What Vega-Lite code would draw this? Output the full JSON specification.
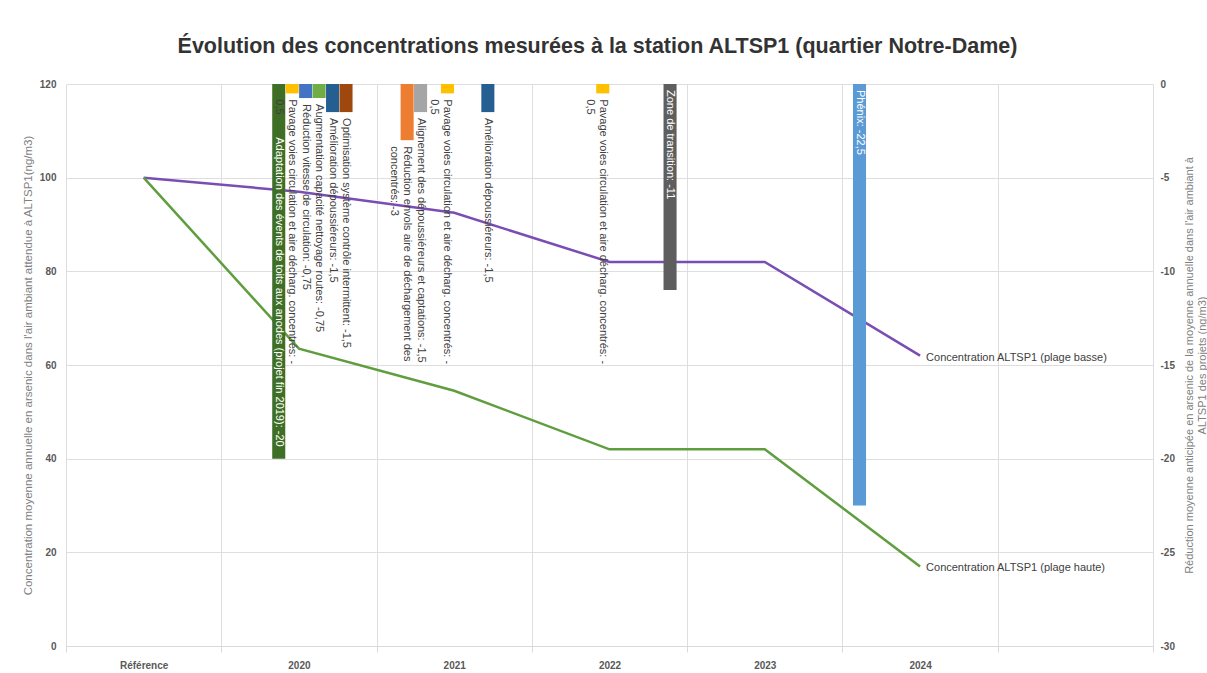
{
  "$schema": "https://vega.github.io/schema/vega-lite/v6.json",
  "width": 1087,
  "height": 562,
  "autosize": {"type": "none"},
  "padding": {"left": 66, "top": 84, "right": 54, "bottom": 27},
  "background": "white",
  "config": {"font": "Liberation Sans", "view": {"stroke": null}},
  "title": {
    "text": "Évolution des concentrations mesurées à la station ALTSP1 (quartier Notre-Dame)",
    "fontSize": 21.5, "fontWeight": "bold", "color": "#333333", "anchor": "middle", "offset": 22, "dx": -12
  },
  "datasets": {
    "lignes": [
      {"annee": "Référence", "serie": "Concentration ALTSP1 (plage basse)", "valeur": 100},
      {"annee": "2020", "serie": "Concentration ALTSP1 (plage basse)", "valeur": 97},
      {"annee": "2021", "serie": "Concentration ALTSP1 (plage basse)", "valeur": 92.5},
      {"annee": "2022", "serie": "Concentration ALTSP1 (plage basse)", "valeur": 82},
      {"annee": "2023", "serie": "Concentration ALTSP1 (plage basse)", "valeur": 82},
      {"annee": "2024", "serie": "Concentration ALTSP1 (plage basse)", "valeur": 62},
      {"annee": "Référence", "serie": "Concentration ALTSP1 (plage haute)", "valeur": 100},
      {"annee": "2020", "serie": "Concentration ALTSP1 (plage haute)", "valeur": 63.5},
      {"annee": "2021", "serie": "Concentration ALTSP1 (plage haute)", "valeur": 54.5},
      {"annee": "2022", "serie": "Concentration ALTSP1 (plage haute)", "valeur": 42},
      {"annee": "2023", "serie": "Concentration ALTSP1 (plage haute)", "valeur": 42},
      {"annee": "2024", "serie": "Concentration ALTSP1 (plage haute)", "valeur": 17}
    ],
    "projets": [
      {"annee": "2020", "projet": "Évents toits anodes", "reduction": -20, "label": "Adaptation des évents de toits aux anodes (projet fin 2019): -20"},
      {"annee": "2020", "projet": "Pavage", "reduction": -0.5, "label": "Pavage voies circulation et aire décharg. concentrés: -\n0,5"},
      {"annee": "2020", "projet": "Réduction vitesse", "reduction": -0.75, "label": "Réduction vitesse de circulation: -0,75"},
      {"annee": "2020", "projet": "Nettoyage routes", "reduction": -0.75, "label": "Augmentation capacité nettoyage routes: -0,75"},
      {"annee": "2020", "projet": "Dépoussiéreurs", "reduction": -1.5, "label": "Amélioration dépoussiéreurs: -1,5"},
      {"annee": "2020", "projet": "Contrôle intermittent", "reduction": -1.5, "label": "Optimisation système contrôle intermittent: -1,5"},
      {"annee": "2021", "projet": "Réduction envols", "reduction": -3, "label": "Réduction envols aire de déchargement des\nconcentrés: -3"},
      {"annee": "2021", "projet": "Alignement", "reduction": -1.5, "label": "Alignement des dépoussiéreurs et captations: -1,5"},
      {"annee": "2021", "projet": "Pavage", "reduction": -0.5, "label": "Pavage voies circulation et aire décharg. concentrés: -\n0,5"},
      {"annee": "2021", "projet": "Dépoussiéreurs", "reduction": -1.5, "label": "Amélioration dépoussiéreurs: -1,5"},
      {"annee": "2022", "projet": "Pavage", "reduction": -0.5, "label": "Pavage voies circulation et aire décharg. concentrés: -\n0,5"},
      {"annee": "2022", "projet": "Zone de transition", "reduction": -11, "label": "Zone de transition: -11"},
      {"annee": "2024", "projet": "Phénix", "reduction": -22.5, "label": "Phénix: -22,5"}
    ]
  },
  "layer": [
    {
      "data": {"name": "lignes"},
      "layer": [
        {
          "mark": {"type": "line", "strokeWidth": 2.5, "zindex": 1},
          "encoding": {
            "x": {
              "field": "annee", "type": "nominal", "sort": null,
              "scale": {"type": "band", "domain": ["Référence", "2020", "2021", "2022", "2023", "2024", "2025"], "paddingInner": 0, "paddingOuter": 0},
              "axis": {
                "title": null, "labelAngle": 0, "labelExpr": "datum.value == '2025' ? '' : datum.value",
                "tickBand": "extent", "grid": true, "gridColor": "#dedede", "ticks": true, "tickSize": 6, "tickColor": "#d9d9d9",
                "domain": true, "domainColor": "#d9d9d9", "labelFontWeight": "bold", "labelFontSize": 10, "labelColor": "#595959", "labelPadding": 8
              }
            },
            "y": {
              "field": "valeur", "type": "quantitative",
              "scale": {"domain": [0, 120], "nice": false},
              "axis": {
                "orient": "left", "title": "Concentration moyenne annuelle en arsenic dans l'air ambiant attendue à ALTSP1(ng/m3)",
                "values": [0, 20, 40, 60, 80, 100, 120], "grid": true, "gridColor": "#dedede", "domain": false, "ticks": false,
                "labelFontWeight": "bold", "labelFontSize": 10, "labelColor": "#595959", "labelPadding": 10,
                "titleFontSize": 11.5, "titleFontWeight": "normal", "titleColor": "#7f7f7f", "titlePadding": 6
              }
            },
            "color": {
              "field": "serie", "type": "nominal",
              "scale": {"domain": ["Concentration ALTSP1 (plage basse)", "Concentration ALTSP1 (plage haute)"], "range": ["#7a4db3", "#5f9e3f"]},
              "legend": null
            }
          }
        },
        {
          "transform": [{"filter": "datum.annee == '2024'"}],
          "mark": {"type": "text", "align": "left", "baseline": "middle", "dx": 6, "dy": 2, "fontSize": 11, "color": "#404040"},
          "encoding": {
            "x": {"field": "annee", "type": "nominal", "sort": null, "scale": {"type": "band", "domain": ["Référence", "2020", "2021", "2022", "2023", "2024", "2025"], "paddingInner": 0, "paddingOuter": 0}},
            "y": {"field": "valeur", "type": "quantitative"},
            "text": {"field": "serie", "type": "nominal"}
          }
        }
      ]
    },
    {
      "data": {"name": "projets"},
      "layer": [
        {
          "mark": {"type": "bar"},
          "encoding": {
            "x": {"field": "annee", "type": "nominal", "sort": null, "scale": {"type": "band", "domain": ["Référence", "2020", "2021", "2022", "2023", "2024", "2025"], "paddingInner": 0, "paddingOuter": 0}},
            "xOffset": {
              "field": "projet", "type": "nominal",
              "scale": {"domain": ["Phénix", "Réduction envols", "Alignement", "Évents toits anodes", "Pavage", "Réduction vitesse", "Nettoyage routes", "Dépoussiéreurs", "Contrôle intermittent", "Zone de transition"], "paddingInner": 0.03, "paddingOuter": 0.785}
            },
            "y": {
              "field": "reduction", "type": "quantitative",
              "scale": {"domain": [-30, 0], "nice": false},
              "axis": {
                "orient": "right",
                "title": ["Réduction moyenne anticipée en arsenic de la moyenne annuelle dans l'air ambiant à", "ALTSP1 des projets (ng/m3)"],
                "values": [0, -5, -10, -15, -20, -25, -30], "labelExpr": "'' + datum.value",
                "grid": false, "domain": false, "ticks": false,
                "labelFontWeight": "bold", "labelFontSize": 10, "labelColor": "#595959", "labelPadding": 7,
                "titleFontSize": 11, "titleFontWeight": "normal", "titleColor": "#7f7f7f", "titlePadding": -4,
                "titleAngle": -90, "titleBaseline": "top"
              }
            },
            "color": {
              "field": "projet", "type": "nominal",
              "scale": {
                "domain": ["Phénix", "Réduction envols", "Alignement", "Évents toits anodes", "Pavage", "Réduction vitesse", "Nettoyage routes", "Dépoussiéreurs", "Contrôle intermittent", "Zone de transition"],
                "range": ["#5b9bd5", "#ed7d31", "#a5a5a5", "#3f6f26", "#ffc000", "#4472c4", "#70ad47", "#255e91", "#9e480e", "#5e5e5e"]
              },
              "legend": null
            }
          }
        },
        {
          "transform": [{"filter": "indexof(['Phénix', 'Zone de transition', 'Évents toits anodes'], datum.projet) < 0"}],
          "mark": {"type": "text", "angle": 90, "align": "left", "baseline": "middle", "dx": 6, "fontSize": 11, "color": "#404040", "lineBreak": "\n", "zindex": 2},
          "encoding": {
            "x": {"field": "annee", "type": "nominal", "sort": null, "scale": {"type": "band", "domain": ["Référence", "2020", "2021", "2022", "2023", "2024", "2025"], "paddingInner": 0, "paddingOuter": 0}},
            "xOffset": {"field": "projet", "type": "nominal"},
            "y": {"field": "reduction", "type": "quantitative"},
            "text": {"field": "label", "type": "nominal"}
          }
        },
        {
          "transform": [{"filter": "datum.projet == 'Phénix' || datum.projet == 'Zone de transition'"}],
          "mark": {"type": "text", "angle": 90, "align": "left", "baseline": "middle", "dx": 6, "fontSize": 11, "color": "white", "zindex": 2},
          "encoding": {
            "x": {"field": "annee", "type": "nominal", "sort": null, "scale": {"type": "band", "domain": ["Référence", "2020", "2021", "2022", "2023", "2024", "2025"], "paddingInner": 0, "paddingOuter": 0}},
            "xOffset": {"field": "projet", "type": "nominal"},
            "y": {"datum": 0, "type": "quantitative"},
            "text": {"field": "label", "type": "nominal"}
          }
        },
        {
          "transform": [{"filter": "datum.projet == 'Évents toits anodes'"}],
          "mark": {"type": "text", "angle": 90, "align": "right", "baseline": "middle", "dx": -12, "fontSize": 11, "color": "white", "clip": true, "zindex": 2},
          "encoding": {
            "x": {"field": "annee", "type": "nominal", "sort": null, "scale": {"type": "band", "domain": ["Référence", "2020", "2021", "2022", "2023", "2024", "2025"], "paddingInner": 0, "paddingOuter": 0}},
            "xOffset": {"field": "projet", "type": "nominal"},
            "y": {"field": "reduction", "type": "quantitative"},
            "text": {"field": "label", "type": "nominal"}
          }
        }
      ]
    }
  ],
  "resolve": {"scale": {"y": "independent", "color": "independent"}}
}
